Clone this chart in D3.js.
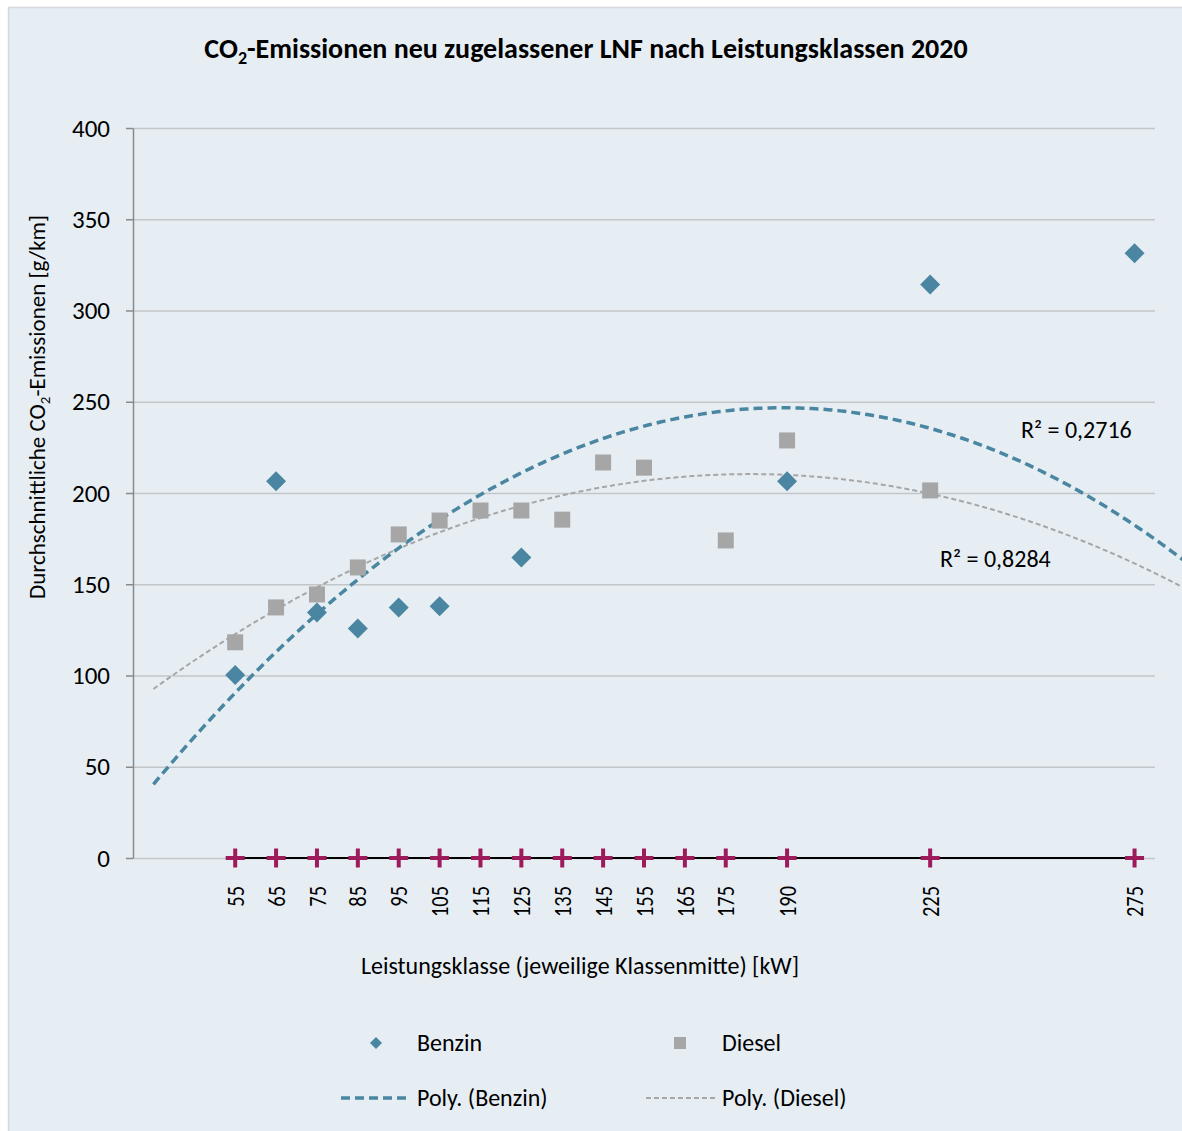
<!DOCTYPE html>
<html>
<head>
<meta charset="utf-8">
<script src="https://cdn.jsdelivr.net/npm/d3@7"></script>
<style>
  body { margin: 0; background: #fff; }
  svg { display: block; font-family: Carlito, Lato, sans-serif; }
</style>
</head>
<body>
<div id="chart"></div>
<script>
// Leistungsklassen (Klassenmitte, kW) - used as x positions and labels
var classes = [55, 65, 75, 85, 95, 105, 115, 125, 135, 145, 155, 165, 175, 190, 225, 275];

var benzinX = [55, 65, 75, 85, 95, 105, 125, 190, 225, 275];
var benzinY = [100.3, 206.4, 134.5, 125.7, 137.3, 138, 164.6, 206.4, 314.2, 331.4];

var dieselX = [55, 65, 75, 85, 95, 105, 115, 125, 135, 145, 155, 175, 190, 225];
var dieselY = [118.2, 137.3, 144.4, 159.2, 177.3, 184.9, 190.4, 190.4, 185.4, 216.7, 213.9, 174, 228.8, 201.4];

// Poly. (Benzin): vertex kW, vertex value, curvature
var benzinTrend = [189, 246.7, -0.0087];
// trend lines run 20 kW before the first class and 20 kW after the last
var trendRange = [35, 295];

var yTicks = [0, 50, 100, 150, 200, 250, 300, 350, 400];
var r2Labels = ['R² = 0,2716', 'R² = 0,8284'];

var width = 1182,
    height = 1131;

var benzinColor = '#4a86a1',
    dieselColor = '#a6a6a6',
    plusColor = '#9d1b5b';

var svg = d3.select('#chart')
  .append('svg')
  .attr('width', width)
  .attr('height', height);

// chart area background
svg.append('rect')
  .attr('x', 8.5)
  .attr('y', 7.5)
  .attr('width', width)
  .attr('height', height)
  .attr('fill', '#e6eef4')
  .attr('stroke', '#d4d8dc')
  .attr('stroke-width', 1.5);

var xScale = d3.scaleLinear()
  .domain([30, 280])
  .range([133, 1155]);

var yScale = d3.scaleLinear()
  .domain([0, 400])
  .range([858, 128]);

// gridlines
svg.append('g')
  .attr('transform', 'translate(133,0)')
  .call(d3.axisLeft(yScale).tickValues(yTicks).tickSize(-(1155 - 133)).tickFormat(''))
  .call(function(g) {
    g.select('.domain').remove();
    g.selectAll('line').attr('stroke', '#c3c6c9').attr('stroke-width', 1.5);
  });

// y axis
svg.append('g')
  .attr('transform', 'translate(133,0)')
  .call(d3.axisLeft(yScale).tickValues(yTicks).tickSize(7).tickPadding(16).tickSizeOuter(0))
  .call(function(g) {
    g.select('.domain').attr('stroke', '#8a8a8a').attr('stroke-width', 1.5);
    g.selectAll('line').attr('stroke', '#8a8a8a').attr('stroke-width', 1.5);
    g.selectAll('text')
      .attr('font-size', '25px')
      .attr('font-family', 'Carlito, Lato, sans-serif')
      .attr('fill', '#000');
  });

// polynomial (order 2) least squares fit
function polyFit(xs, ys) {
  var s = [0, 0, 0, 0, 0], t = [0, 0, 0];
  xs.forEach(function(x, i) {
    var p = 1;
    for (var k = 0; k < 5; k++) { s[k] += p; if (k < 3) t[k] += p * ys[i]; p *= x; }
  });
  var m = [[s[0], s[1], s[2], t[0]], [s[1], s[2], s[3], t[1]], [s[2], s[3], s[4], t[2]]];
  for (var c = 0; c < 3; c++) {
    for (var r = c + 1; r < 3; r++) {
      var f = m[r][c] / m[c][c];
      for (var j = c; j < 4; j++) m[r][j] -= f * m[c][j];
    }
  }
  var a = [0, 0, 0];
  for (var r2 = 2; r2 >= 0; r2--) {
    var sum = m[r2][3];
    for (var j2 = r2 + 1; j2 < 3; j2++) sum -= m[r2][j2] * a[j2];
    a[r2] = sum / m[r2][r2];
  }
  return function(x) { return a[0] + a[1] * x + a[2] * x * x; };
}

var trendXs = d3.range(trendRange[0], trendRange[1] + 0.5, 1);
var dieselFit = polyFit(dieselX, dieselY);
var benzinFit = function(x) {
  return benzinTrend[1] + benzinTrend[2] * (x - benzinTrend[0]) * (x - benzinTrend[0]);
};

var line = d3.line()
  .x(function(d) { return xScale(d[0]); })
  .y(function(d) { return yScale(d[1]); });

svg.append('path')
  .datum(trendXs.map(function(x) { return [x, dieselFit(x)]; }))
  .attr('d', line)
  .attr('fill', 'none')
  .attr('stroke', dieselColor)
  .attr('stroke-width', 2)
  .attr('stroke-dasharray', '5,3');

svg.append('path')
  .datum(trendXs.map(function(x) { return [x, benzinFit(x)]; }))
  .attr('d', line)
  .attr('fill', 'none')
  .attr('stroke', benzinColor)
  .attr('stroke-width', 3.5)
  .attr('stroke-dasharray', '9,5');

// class series on the zero line (+ markers and labels)
svg.append('path')
  .datum(classes)
  .attr('d', d3.line().x(function(d) { return xScale(d); }).y(yScale(0)))
  .attr('stroke', '#000')
  .attr('stroke-width', 2)
  .attr('fill', 'none');

svg.append('g').selectAll('path')
  .data(classes)
  .enter()
  .append('path')
  .attr('d', function(d) {
    var x = xScale(d), y = yScale(0);
    return 'M' + (x - 9.5) + ',' + y + 'H' + (x + 9.5) + 'M' + x + ',' + (y - 9.5) + 'V' + (y + 9.5);
  })
  .attr('stroke', plusColor)
  .attr('stroke-width', 4);

svg.append('g').selectAll('text')
  .data(classes)
  .enter()
  .append('text')
  .attr('transform', function(d) {
    return 'translate(' + xScale(d) + ',886) rotate(-90) scale(0.85,1)';
  })
  .attr('text-anchor', 'end')
  .attr('dy', '0.36em')
  .attr('font-size', '24px')
  .text(function(d) { return d; });

// scatter points
svg.append('g').selectAll('rect')
  .data(dieselX)
  .enter()
  .append('rect')
  .attr('x', function(d) { return xScale(d) - 8; })
  .attr('y', function(d, i) { return yScale(dieselY[i]) - 8; })
  .attr('width', 16)
  .attr('height', 16)
  .attr('fill', dieselColor);

svg.append('g').selectAll('path')
  .data(benzinX)
  .enter()
  .append('path')
  .attr('d', d3.symbol().type(d3.symbolSquare).size(200))
  .attr('transform', function(d, i) {
    return 'translate(' + xScale(d) + ',' + yScale(benzinY[i]) + ') rotate(45)';
  })
  .attr('fill', benzinColor);

// R² labels
svg.append('text')
  .attr('x', 1021)
  .attr('y', 438)
  .attr('font-size', '24px')
  .text(r2Labels[0]);

svg.append('text')
  .attr('x', 940)
  .attr('y', 567)
  .attr('font-size', '24px')
  .text(r2Labels[1]);

// title
var title = svg.append('text')
  .attr('x', 586)
  .attr('y', 58)
  .attr('text-anchor', 'middle')
  .attr('font-size', '28px')
  .attr('font-weight', 'bold');
title.append('tspan').text('CO');
title.append('tspan').attr('font-size', '18px').attr('dy', 6).text('2');
title.append('tspan').attr('dy', -6).text('-Emissionen neu zugelassener LNF nach Leistungsklassen 2020');

// axis titles
var yTitle = svg.append('text')
  .attr('transform', 'translate(45,407) rotate(-90)')
  .attr('text-anchor', 'middle')
  .attr('font-size', '23px');
yTitle.append('tspan').text('Durchschnittliche CO');
yTitle.append('tspan').attr('font-size', '15px').attr('dy', 5).text('2');
yTitle.append('tspan').attr('dy', -5).text('-Emissionen [g/km]');

svg.append('text')
  .attr('x', 580)
  .attr('y', 974)
  .attr('text-anchor', 'middle')
  .attr('font-size', '24px')
  .text('Leistungsklasse (jeweilige Klassenmitte) [kW]');

// legend
var legend = svg.append('g');
legend.append('path')
  .attr('d', d3.symbol().type(d3.symbolSquare).size(72))
  .attr('transform', 'translate(376,1043) rotate(45)')
  .attr('fill', benzinColor);
legend.append('text').attr('x', 417).attr('y', 1051).attr('font-size', '24px').text('Benzin');

legend.append('rect')
  .attr('x', 674).attr('y', 1037).attr('width', 12).attr('height', 12)
  .attr('fill', dieselColor);
legend.append('text').attr('x', 722).attr('y', 1051).attr('font-size', '24px').text('Diesel');

legend.append('line')
  .attr('x1', 341).attr('x2', 410).attr('y1', 1098).attr('y2', 1098)
  .attr('stroke', benzinColor).attr('stroke-width', 3.5).attr('stroke-dasharray', '9,5');
legend.append('text').attr('x', 417).attr('y', 1106).attr('font-size', '24px').text('Poly. (Benzin)');

legend.append('line')
  .attr('x1', 646).attr('x2', 715).attr('y1', 1098).attr('y2', 1098)
  .attr('stroke', dieselColor).attr('stroke-width', 2).attr('stroke-dasharray', '5,3');
legend.append('text').attr('x', 722).attr('y', 1106).attr('font-size', '24px').text('Poly. (Diesel)');
</script>
</body>
</html>
